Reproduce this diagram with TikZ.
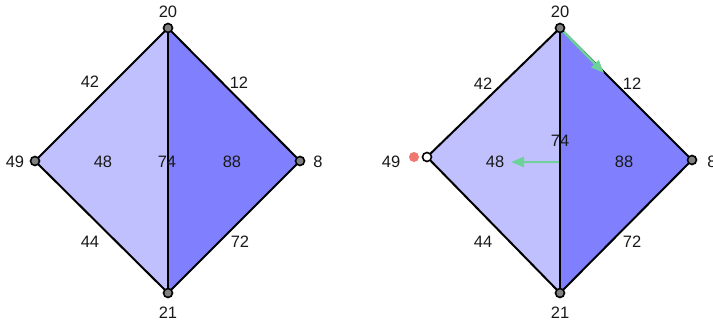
\documentclass[tikz,border=0pt]{standalone}
\usepackage{fontspec}
\setmainfont{Liberation Sans}
\usetikzlibrary{arrows.meta}
\definecolor{lightface}{RGB}{192,192,255}
\definecolor{darkface}{RGB}{128,128,255}
\definecolor{vgray}{RGB}{128,128,128}
\definecolor{greenarr}{RGB}{108,210,152}
\definecolor{reddot}{RGB}{240,120,110}
\begin{document}
\begin{tikzpicture}[x=1pt,y=-1pt,
  edge/.style={line width=2pt,line join=round},
  vdot/.style={circle,draw=black,line width=1.6pt,fill=vgray,inner sep=0pt,minimum size=9pt},
  vwhite/.style={circle,draw=black,line width=1.6pt,fill=white,inner sep=0pt,minimum size=9pt},
  lbl/.style={font=\fontsize{16.5}{19}\selectfont,text=black!90,inner sep=0pt},
  garrow/.style={draw=greenarr,line width=2.5pt,-{Triangle[length=13pt,width=10pt]}}]
\useasboundingbox (0,0) rectangle (713,331);
% ---------- left diagram ----------
\coordinate (aT) at (168,28);
\coordinate (aL) at (35,161);
\coordinate (aR) at (300,161);
\coordinate (aB) at (168,293);
\fill[lightface] (aT) -- (aL) -- (aB) -- cycle;
\fill[darkface] (aT) -- (aR) -- (aB) -- cycle;
\draw[edge] (aT) -- (aL) -- (aB) -- (aR) -- cycle;
\draw[edge] (aT) -- (aB);
\node[vdot] (aTn) at (aT) {};
\node[vdot] (aLn) at (aL) {};
\node[vdot] (aRn) at (aR) {};
\node[vdot] (aBn) at (aB) {};
\node[lbl] (a20) at (168,12) {20};
\node[lbl] (a49) at (15,162) {49};
\node[lbl] (a8) at (318,162) {8};
\node[lbl] (a21) at (168,313) {21};
\node[lbl] (a42) at (90,82) {42};
\node[lbl] (a12) at (239,83) {12};
\node[lbl] (a44) at (90,242) {44};
\node[lbl] (a72) at (240,242) {72};
\node[lbl] (a48) at (103,162) {48};
\node[lbl] (a74) at (167,162) {74};
\node[lbl] (a88) at (232,162) {88};
% ---------- right diagram ----------
\coordinate (bT) at (560,28);
\coordinate (bL) at (427,157);
\coordinate (bR) at (692,160);
\coordinate (bB) at (560,293);
\fill[lightface] (bT) -- (bL) -- (bB) -- cycle;
\fill[darkface] (bT) -- (bR) -- (bB) -- cycle;
\draw[edge] (bT) -- (bL) -- (bB) -- (bR) -- cycle;
\draw[edge] (bT) -- (bB);
\coordinate (gA) at (604,73);
\coordinate (gM) at (559,162);
\coordinate (gB) at (511,162);
\draw[garrow] (bT) -- (gA);
\draw[garrow] (gM) -- (gB);
\node[vdot] (bTn) at (bT) {};
\node[vwhite] (bLn) at (bL) {};
\node[vdot] (bRn) at (bR) {};
\node[vdot] (bBn) at (bB) {};
\fill[reddot] (414,157) circle (5pt);
\node[lbl] (b20) at (560,12) {20};
\node[lbl] (b49) at (391,162) {49};
\node[lbl] (b8) at (712,162) {8};
\node[lbl] (b21) at (560,313) {21};
\node[lbl] (b42) at (483,84) {42};
\node[lbl] (b12) at (632,84) {12};
\node[lbl] (b44) at (483,242) {44};
\node[lbl] (b72) at (632,242) {72};
\node[lbl] (b48) at (495,162) {48};
\node[lbl] (b74) at (560,141) {74};
\node[lbl] (b88) at (624,162) {88};
\end{tikzpicture}
\end{document}
